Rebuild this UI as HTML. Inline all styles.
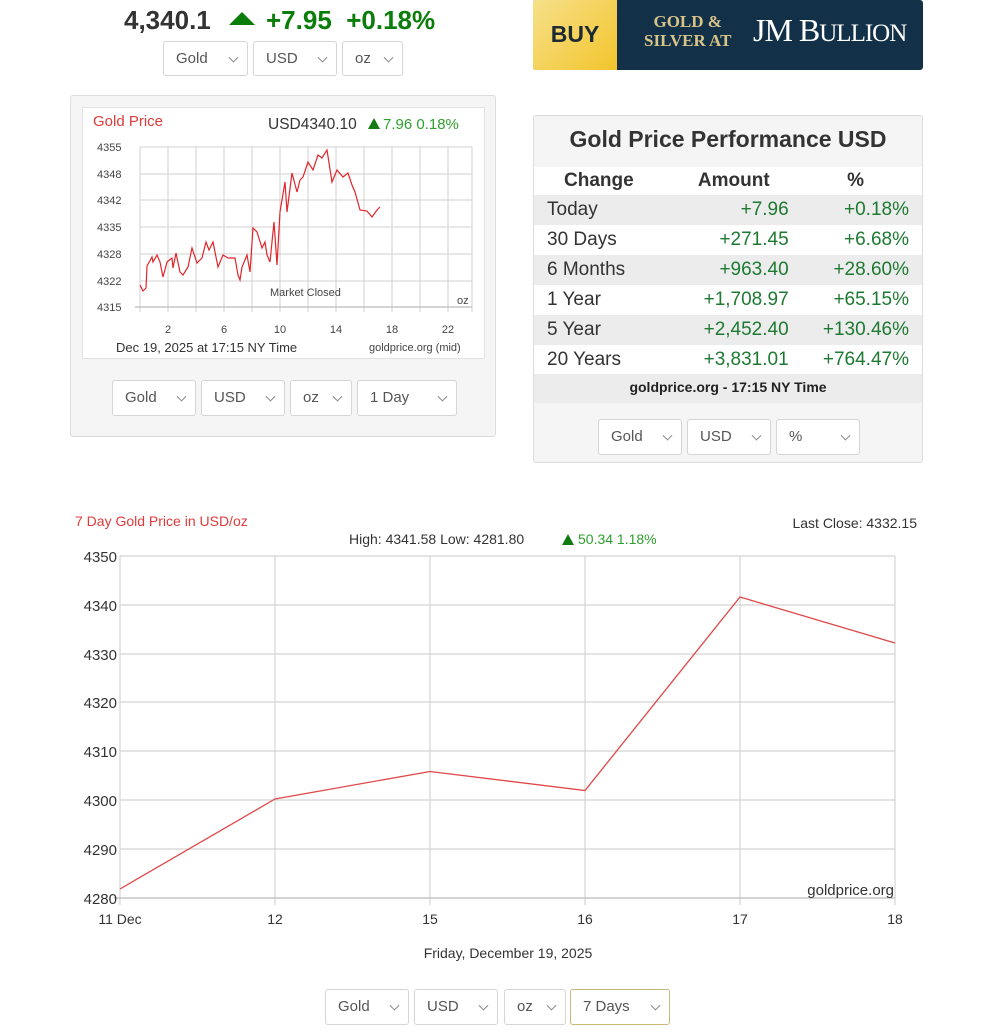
<!DOCTYPE html>
<html><head><meta charset="utf-8"><style>
body{margin:0;width:1003px;height:1036px;background:#fff;font-family:"Liberation Sans",sans-serif;position:relative;overflow:hidden;color:#333}
.a{position:absolute;white-space:nowrap}
.sel{position:absolute;border:1px solid #d5d5d5;border-radius:3px;background:#fff;box-sizing:border-box;font-size:15px;color:#555;padding-left:12px;}
.sel:after{content:"";position:absolute;right:10px;top:50%;width:6px;height:6px;border-right:1px solid #888;border-bottom:1px solid #888;transform:translateY(-70%) rotate(45deg)}
.g{color:#1e7a32}
table{border-collapse:collapse}
</style></head><body>

<div class="a" style="left:124px;top:5px;font-size:26px;font-weight:bold;color:#333">4,340.1</div>
<svg class="a" style="left:229px;top:12px" width="26" height="14"><polygon points="13,0 26,13 0,13" fill="#0a7d0a"/></svg>
<div class="a" style="left:266px;top:5px;font-size:26px;font-weight:bold;color:#0a7d0a">+7.95&nbsp;&nbsp;+0.18%</div>
<div class="sel" style="left:163px;top:41px;width:85px;height:35px;line-height:33px">Gold</div>
<div class="sel" style="left:253px;top:41px;width:84px;height:35px;line-height:33px">USD</div>
<div class="sel" style="left:342px;top:41px;width:61px;height:35px;line-height:33px">oz</div>

<div class="a" style="left:533px;top:0;width:390px;height:70px;border-radius:3px;overflow:hidden;background:#123148">
 <div class="a" style="left:0;top:0;width:84px;height:70px;background:linear-gradient(135deg,#f7e08a,#f2c52c);font-weight:bold;font-size:23px;color:#1d2a33;text-align:center;line-height:68px">BUY</div>
 <div class="a" style="left:111px;top:12px;font-family:'Liberation Serif',serif;font-weight:bold;font-size:17px;color:#d9c488;line-height:19px;text-align:center">GOLD &amp;<br>SILVER AT</div>
 <div class="a" style="left:220px;top:12px;font-family:'Liberation Serif',serif;font-size:32px;color:#fff;letter-spacing:-1px">JM B<span style="font-size:25px">ULLION</span></div>
</div>

<div class="a" style="left:70px;top:95px;width:424px;height:340px;background:#f5f5f5;border:1px solid #ddd;border-radius:3px"></div>
<div class="a" style="left:82px;top:107px;width:401px;height:250px;background:#fff;border:1px solid #e2e2e2"></div>
<svg class="a" style="left:0;top:0" width="500" height="370">
<g stroke="#d0d0d0" stroke-width="1" fill="none">
<line x1="140" y1="147" x2="472" y2="147"/><line x1="140" y1="174" x2="472" y2="174"/><line x1="140" y1="200" x2="472" y2="200"/><line x1="140" y1="227" x2="472" y2="227"/><line x1="140" y1="254" x2="472" y2="254"/><line x1="140" y1="281" x2="472" y2="281"/>
<line x1="140" y1="147" x2="140" y2="312"/><line x1="168" y1="147" x2="168" y2="312"/><line x1="196" y1="147" x2="196" y2="312"/><line x1="224" y1="147" x2="224" y2="312"/><line x1="252" y1="147" x2="252" y2="312"/><line x1="280" y1="147" x2="280" y2="312"/><line x1="308" y1="147" x2="308" y2="312"/><line x1="336" y1="147" x2="336" y2="312"/><line x1="364" y1="147" x2="364" y2="312"/><line x1="392" y1="147" x2="392" y2="312"/><line x1="420" y1="147" x2="420" y2="312"/><line x1="448" y1="147" x2="448" y2="312"/><line x1="472" y1="147" x2="472" y2="312"/>
<line x1="135" y1="307" x2="472" y2="307" stroke="#aaa"/>
</g>
<polyline fill="none" stroke="#e0262b" stroke-width="1.2" points="140,285 143,291 146,288 147,266 152,257 153,262 157,255 160,262 163,277 167,262 172,258 173,268 176,253 180,272 183,275 188,267 192,248 197,263 202,258 206,242 209,250 213,242 218,267 223,255 228,258 235,258 238,275 240,280 242,267 247,255 250,272 253,228 257,232 262,248 265,242 267,255 270,262 274,222 277,265 280,212 285,182 287,212 292,173 297,192 300,180 303,177 308,162 313,170 318,155 322,158 327,150 332,182 337,170 343,177 348,173 352,185 355,192 360,210 367,211 372,217 377,210 380,207"/>
<g font-size="11" fill="#444" font-family="Liberation Sans,sans-serif">
<text x="97" y="151">4355</text><text x="97" y="178">4348</text><text x="97" y="204">4342</text><text x="97" y="231">4335</text><text x="97" y="258">4328</text><text x="97" y="285">4322</text><text x="97" y="311">4315</text>
<text x="168" y="333" text-anchor="middle">2</text><text x="224" y="333" text-anchor="middle">6</text><text x="280" y="333" text-anchor="middle">10</text><text x="336" y="333" text-anchor="middle">14</text><text x="392" y="333" text-anchor="middle">18</text><text x="448" y="333" text-anchor="middle">22</text>
<text x="270" y="296">Market Closed</text><text x="457" y="304">oz</text>
<text x="369" y="351">goldprice.org (mid)</text>
</g>
<text x="116" y="352" font-size="13" fill="#333" font-family="Liberation Sans,sans-serif">Dec 19, 2025 at 17:15 NY Time</text>
<text x="93" y="126" font-size="15" fill="#e03a3a" font-family="Liberation Sans,sans-serif">Gold Price</text>
<text x="268" y="129" font-size="15.5" fill="#333" font-family="Liberation Sans,sans-serif">USD4340.10</text>
<polygon points="374,118 380,129 368,129" fill="#137a13"/>
<text x="383" y="129" font-size="15" fill="#2ea02e" font-family="Liberation Sans,sans-serif">7.96 0.18%</text>
</svg>
<div class="sel" style="left:112px;top:380px;width:84px;height:36px;line-height:34px">Gold</div>
<div class="sel" style="left:201px;top:380px;width:84px;height:36px;line-height:34px">USD</div>
<div class="sel" style="left:290px;top:380px;width:62px;height:36px;line-height:34px">oz</div>
<div class="sel" style="left:357px;top:380px;width:100px;height:36px;line-height:34px">1 Day</div>

<div class="a" style="left:533px;top:115px;width:388px;height:346px;background:#f5f5f5;border:1px solid #ddd;border-radius:3px"></div>
<div class="a" style="left:534px;top:126px;width:388px;text-align:center;font-size:23px;font-weight:bold;color:#333">Gold Price Performance USD</div>
<div class="a" style="left:534px;top:167px;width:388px;height:236px;background:#fff"></div>
<table class="a" style="left:534px;top:167px;width:388px;font-size:19px">
<tr style="height:28px;font-weight:bold;color:#333"><td style="padding-left:30px">Change</td><td style="text-align:right;padding-right:20px">Amount</td><td style="text-align:right;padding-right:58px">%</td></tr>
<tr style="height:30px;background:#ececec"><td style="padding-left:13px">Today</td><td class="g" style="text-align:right">+7.96</td><td class="g" style="text-align:right;padding-right:13px">+0.18%</td></tr>
<tr style="height:30px"><td style="padding-left:13px">30 Days</td><td class="g" style="text-align:right">+271.45</td><td class="g" style="text-align:right;padding-right:13px">+6.68%</td></tr>
<tr style="height:30px;background:#ececec"><td style="padding-left:13px">6 Months</td><td class="g" style="text-align:right">+963.40</td><td class="g" style="text-align:right;padding-right:13px">+28.60%</td></tr>
<tr style="height:30px"><td style="padding-left:13px">1 Year</td><td class="g" style="text-align:right">+1,708.97</td><td class="g" style="text-align:right;padding-right:13px">+65.15%</td></tr>
<tr style="height:30px;background:#ececec"><td style="padding-left:13px">5 Year</td><td class="g" style="text-align:right">+2,452.40</td><td class="g" style="text-align:right;padding-right:13px">+130.46%</td></tr>
<tr style="height:30px"><td style="padding-left:13px">20 Years</td><td class="g" style="text-align:right">+3,831.01</td><td class="g" style="text-align:right;padding-right:13px">+764.47%</td></tr>
</table>
<div class="a" style="left:534px;top:374px;width:388px;height:29px;background:#ececec;text-align:center;font-size:14px;font-weight:bold;line-height:27px;color:#222">goldprice.org - 17:15 NY Time</div>
<div class="sel" style="left:598px;top:419px;width:84px;height:36px;line-height:34px">Gold</div>
<div class="sel" style="left:687px;top:419px;width:84px;height:36px;line-height:34px">USD</div>
<div class="sel" style="left:776px;top:419px;width:84px;height:36px;line-height:34px">%</div>

<svg class="a" style="left:0;top:500px" width="1003" height="470">
<g transform="translate(0,-500)">
<g stroke="#d4d4d4" stroke-width="1.2" fill="none">
<line x1="120" y1="556" x2="895" y2="556"/><line x1="120" y1="605" x2="895" y2="605"/><line x1="120" y1="654" x2="895" y2="654"/><line x1="120" y1="702" x2="895" y2="702"/><line x1="120" y1="751" x2="895" y2="751"/><line x1="120" y1="800" x2="895" y2="800"/><line x1="120" y1="849" x2="895" y2="849"/>
<line x1="120" y1="556" x2="120" y2="905"/><line x1="275" y1="556" x2="275" y2="905"/><line x1="430" y1="556" x2="430" y2="905"/><line x1="585" y1="556" x2="585" y2="905"/><line x1="740" y1="556" x2="740" y2="905"/><line x1="895" y1="556" x2="895" y2="905"/>
<line x1="114" y1="898" x2="895" y2="898" stroke="#bbb"/>
</g>
<polyline fill="none" stroke="#e04848" stroke-width="1.3" points="120,889 275,799 430,771.5 585,790.5 740,597 895,643"/>
<g font-size="15" fill="#333" font-family="Liberation Sans,sans-serif" text-anchor="end">
<text x="117" y="562">4350</text><text x="117" y="611">4340</text><text x="117" y="660">4330</text><text x="117" y="708">4320</text><text x="117" y="757">4310</text><text x="117" y="806">4300</text><text x="117" y="855">4290</text><text x="117" y="904">4280</text>
</g>
<g font-size="14" fill="#333" font-family="Liberation Sans,sans-serif" text-anchor="middle">
<text x="120" y="924">11 Dec</text><text x="275" y="924">12</text><text x="430" y="924">15</text><text x="585" y="924">16</text><text x="740" y="924">17</text><text x="895" y="924">18</text>
<text x="508" y="958">Friday, December 19, 2025</text>
</g>
<text x="894" y="895" font-size="15" fill="#333" text-anchor="end" font-family="Liberation Sans,sans-serif">goldprice.org</text>
<text x="75" y="526" font-size="14" fill="#e03a3a" font-family="Liberation Sans,sans-serif">7 Day Gold Price in USD/oz</text>
<text x="917" y="528" font-size="14" fill="#333" text-anchor="end" font-family="Liberation Sans,sans-serif">Last Close: 4332.15</text>
<text x="349" y="544" font-size="14" fill="#333" font-family="Liberation Sans,sans-serif">High: 4341.58 Low: 4281.80</text>
<polygon points="568,534 574,545 562,545" fill="#137a13"/>
<text x="578" y="544" font-size="14" fill="#2ea02e" font-family="Liberation Sans,sans-serif">50.34 1.18%</text>
</g>
</svg>
<div class="sel" style="left:325px;top:989px;width:84px;height:36px;line-height:34px">Gold</div>
<div class="sel" style="left:414px;top:989px;width:84px;height:36px;line-height:34px">USD</div>
<div class="sel" style="left:504px;top:989px;width:62px;height:36px;line-height:34px">oz</div>
<div class="sel" style="left:570px;top:989px;width:100px;height:36px;line-height:34px;border-color:#c9b87a">7 Days</div>
</body></html>
